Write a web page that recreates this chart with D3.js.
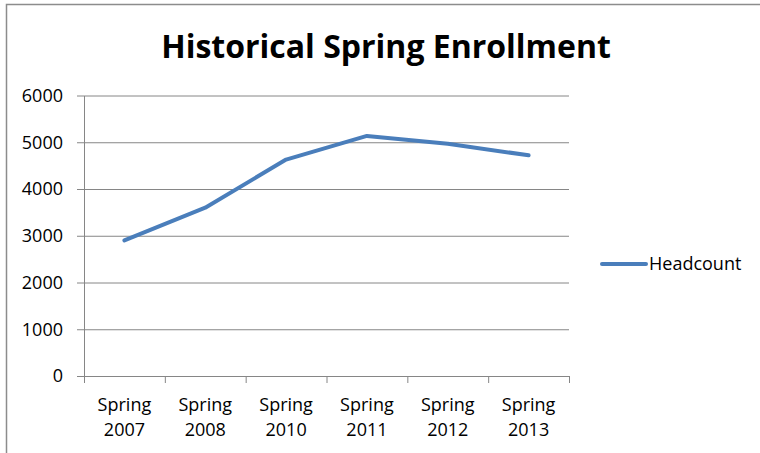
<!DOCTYPE html>
<html>
<head>
<meta charset="utf-8">
<script src="https://cdn.jsdelivr.net/npm/d3@7"></script>
<style>
  body { margin: 0; background: #fff; }
  #chart { width: 760px; height: 453px; }
  text { font-family: "Open Sans", Lato, sans-serif; fill: #000; }
</style>
</head>
<body>
<div id="chart"><svg width="760" height="453"></svg></div>
<script>
// chart values
const categories = ["Spring 2007", "Spring 2008", "Spring 2010", "Spring 2011", "Spring 2012", "Spring 2013"];
const headcount = [2900, 3600, 4630, 5135, 4970, 4720];
const yTicks = [0, 1000, 2000, 3000, 4000, 5000, 6000];
const seriesName = "Headcount";
const chartTitle = "Historical Spring Enrollment";

const width = 760, height = 453;
const margin = {top: 95.5, right: 191, bottom: 77, left: 84};
const plotWidth = width - margin.left - margin.right;
const plotHeight = height - margin.top - margin.bottom;

const gridColor = "#868686";
const lineColor = "#4a7ebb";

const svg = d3.select("#chart").select("svg");

// outer frame (only top and left edge are visible in the crop)
svg.append("path")
    .attr("d", "M6.5,453 V4.5 H760")
    .attr("fill", "none")
    .attr("stroke", "#8c8c8c")
    .attr("stroke-width", 1.5);

// title
svg.append("text")
    .attr("x", 386)
    .attr("y", 58)
    .attr("text-anchor", "middle")
    .style("font-weight", "bold")
    .style("font-size", "32px")
    .text(chartTitle);

const g = svg.append("g")
    .attr("transform", "translate(" + margin.left + "," + margin.top + ")");

// scales
const xBand = d3.scaleBand()
    .domain(categories)
    .range([0, plotWidth]);
const xEdge = d3.scaleLinear()
    .domain([0, categories.length])
    .range([0, plotWidth]);
const y = d3.scaleLinear()
    .domain([0, 6000])
    .range([plotHeight, 0]);

// horizontal gridlines
g.append("g")
    .attr("class", "grid")
    .call(d3.axisLeft(y).tickValues(yTicks).tickSize(-plotWidth).tickFormat(""))
    .call(s => s.select(".domain").remove())
    .selectAll("line")
    .attr("stroke", gridColor);

// y axis
g.append("g")
    .attr("class", "yAxis")
    .call(d3.axisLeft(y).tickValues(yTicks).tickFormat(d3.format("d"))
        .tickSizeInner(7).tickSizeOuter(0).tickPadding(14))
    .call(s => s.select(".domain").attr("stroke", gridColor))
    .call(s => s.selectAll("line").attr("stroke", gridColor))
    .selectAll("text")
    .style("font-size", "18px")
    .attr("font-family", null);

// x axis: ticks on category boundaries
g.append("g")
    .attr("class", "xAxis")
    .attr("transform", "translate(0," + plotHeight + ")")
    .call(d3.axisBottom(xEdge).ticks(categories.length).tickSizeInner(7).tickSizeOuter(0).tickFormat(""))
    .call(s => s.select(".domain").attr("stroke", gridColor))
    .call(s => s.selectAll("line").attr("stroke", gridColor));

// x labels, two lines each
const xLabels = g.append("g")
    .attr("transform", "translate(0," + plotHeight + ")")
    .call(d3.axisBottom(xBand).tickSize(0).tickPadding(0))
    .call(s => s.select(".domain").remove());
xLabels.selectAll("text")
    .style("font-size", "18px")
    .attr("font-family", null)
    .attr("y", 0)
    .attr("dy", null)
    .each(function(d) {
        const words = d.split(" ");
        const t = d3.select(this).text(null);
        words.forEach((w, i) => {
            t.append("tspan")
                .attr("x", 0)
                .attr("y", 35 + i * 25)
                .text(w);
        });
    });

// line
const line = d3.line()
    .x((d, i) => xBand(categories[i]) + xBand.bandwidth() / 2)
    .y(d => y(d));

g.append("path")
    .datum(headcount)
    .attr("fill", "none")
    .attr("stroke", lineColor)
    .attr("stroke-width", 4)
    .attr("stroke-linejoin", "round")
    .attr("stroke-linecap", "round")
    .attr("d", line);

// legend
const legend = svg.append("g")
    .attr("transform", "translate(602,264)");
legend.append("line")
    .attr("x1", 0)
    .attr("x2", 44)
    .attr("stroke", lineColor)
    .attr("stroke-width", 4)
    .attr("stroke-linecap", "round");
legend.append("text")
    .attr("x", 47)
    .attr("dy", "0.35em")
    .style("font-size", "18px")
    .text(seriesName);
</script>
</body>
</html>
